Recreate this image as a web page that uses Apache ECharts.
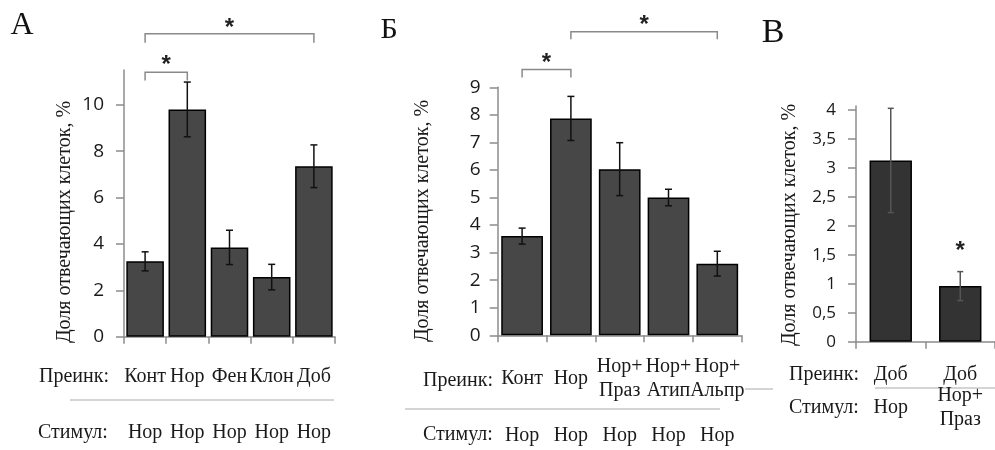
<!DOCTYPE html>
<html><head><meta charset="utf-8">
<script src="https://cdn.jsdelivr.net/npm/echarts@6/dist/echarts.min.js"></script>
<style>html,body{margin:0;padding:0;background:#fff}#c{width:995px;height:450px}</style>
</head><body><div id="c"></div>
<script>
// ---- Panel А ----
const catsA = ['Конт', 'Нор', 'Фен', 'Клон', 'Доб'];
const stimA = ['Нор', 'Нор', 'Нор', 'Нор', 'Нор'];
const meanA = [3.25, 9.8, 3.85, 2.57, 7.35];
const errA = [0.41, 1.18, 0.74, 0.55, 0.92];
const ticksA = [0, 2, 4, 6, 8, 10];
// ---- Panel Б ----
const catsB = ['Конт', 'Нор', 'Нор+\nПраз', 'Нор+\nАтип', 'Нор+\nАльпр'];
const stimB = ['Нор', 'Нор', 'Нор', 'Нор', 'Нор'];
const meanB = [3.6, 7.87, 6.03, 5.0, 2.6];
const errB = [0.29, 0.8, 0.96, 0.3, 0.45];
const ticksB = [0, 1, 2, 3, 4, 5, 6, 7, 8, 9];
// ---- Panel В ----
const catsC = ['Доб', 'Доб'];
const stimC = ['Нор', 'Нор+\nПраз'];
const meanC = [3.13, 0.96];
const errC = [0.9, 0.25];
const ticksC = [0, 0.5, 1, 1.5, 2, 2.5, 3, 3.5, 4];
// significance: [from, to, bracket level, leg end level, star level]
const sigA = [[0, 1, 11.4, 11.05, 11.9], [0, 4, 13.06, 12.67, 13.5]];
const sigB = [[0, 1, 9.65, 9.36, 10.05], [1, 4, 11.02, 10.74, 11.44]];
const starC = [[1, 1.64]];

const SERIF = '"Liberation Serif", "Times New Roman", serif';
const SANS = '"Open Sans", sans-serif';
const AX = '#8c8c8c';
const TXT = '#1a1a1a';
const STAR_FONT = 'bold 24px "Liberation Sans", sans-serif';
const STAR_DY = 5;

const chart = echarts.init(document.getElementById('c'), null, {renderer: 'canvas'});

function errRender(color, cap) {
  return function (params, api) {
    const x = api.value(0), m = api.value(1), e = api.value(2);
    const t = api.coord([x, m + e]), b = api.coord([x, m - e]);
    const st = {stroke: color, lineWidth: 1.5};
    return {type: 'group', children: [
      {type: 'line', shape: {x1: t[0], y1: t[1], x2: b[0], y2: b[1]}, style: st},
      {type: 'line', shape: {x1: t[0] - cap, y1: t[1], x2: t[0] + cap, y2: t[1]}, style: st},
      {type: 'line', shape: {x1: b[0] - cap, y1: b[1], x2: b[0] + cap, y2: b[1]}, style: st}
    ]};
  };
}
function sigRender(params, api) {
  const i1 = api.value(0), i2 = api.value(1), y = api.value(2), ye = api.value(3), ys = api.value(4);
  const a = api.coord([i1, y]), b = api.coord([i2, y]);
  const ae = api.coord([i1, ye]), be = api.coord([i2, ye]);
  const s = api.coord([i1, ys]), s2 = api.coord([i2, ys]);
  return {type: 'group', children: [
    {type: 'polyline', shape: {points: [[ae[0], ae[1]], [a[0], a[1]], [b[0], b[1]], [be[0], be[1]]]},
     style: {stroke: '#8a8a8a', lineWidth: 1.5, fill: null}},
    {type: 'text', x: (s[0] + s2[0]) / 2, y: s[1] + STAR_DY,
     style: {text: '*', font: STAR_FONT, fill: '#222', align: 'center', verticalAlign: 'middle'}}
  ]};
}
function starRender(params, api) {
  const p = api.coord([api.value(0), api.value(1)]);
  return {type: 'text', x: p[0], y: p[1] + STAR_DY,
    style: {text: '*', font: STAR_FONT, fill: '#222', align: 'center', verticalAlign: 'middle'}};
}

function yAx(grid, max, ticks, margin, fs, fmt) {
  return {type: 'value', gridIndex: grid, min: 0, max: max,
    axisLine: {show: true, lineStyle: {color: AX, width: 1.5}},
    axisTick: {show: true, length: 8, lineStyle: {color: AX, width: 1.5}, customValues: ticks},
    axisLabel: {customValues: ticks, margin: margin, fontFamily: SANS, fontSize: fs, color: TXT,
      formatter: fmt || (v => String(v))},
    splitLine: {show: false}};
}
function xAx(grid, data, margin, showLine) {
  return {type: 'category', gridIndex: grid, data: data, position: 'bottom',
    axisLine: {show: showLine, lineStyle: {color: AX, width: 1.5}},
    axisTick: {show: showLine, length: 7, lineStyle: {color: AX, width: 1.5}},
    axisLabel: {interval: 0, margin: margin, verticalAlign: 'middle', fontFamily: SERIF, fontSize: 20,
      lineHeight: 24, color: TXT},
    splitLine: {show: false}};
}

const option = {
  animation: false,
  backgroundColor: '#fff',
  grid: [
    {left: 124, top: 70, width: 211, height: 266.7},
    {left: 497.7, top: 87.3, width: 244, height: 248},
    {left: 856, top: 106, width: 148, height: 235.7}
  ],
  xAxis: [
    xAx(0, catsA, 40, true), xAx(0, stimA, 96, false),
    xAx(1, catsB, 43, true), xAx(1, stimB, 100, false),
    xAx(2, catsC, 33, true), xAx(2, stimC, 66, false)
  ],
  yAxis: [
    yAx(0, 11.5, ticksA, 20, 19),
    yAx(1, 9, ticksB, 17, 19),
    yAx(2, 4.07, ticksC, 20, 17, v => String(v).replace('.', ','))
  ],
  series: [
    {type: 'bar', xAxisIndex: 0, yAxisIndex: 0, data: meanA, barCategoryGap: '11%',
     itemStyle: {color: '#474747', borderColor: '#000', borderWidth: 1.5}},
    {type: 'custom', xAxisIndex: 0, yAxisIndex: 0, renderItem: errRender('#111', 3.5),
     data: meanA.map((m, i) => [i, m, errA[i]]), encode: {x: 0, y: 1}, z: 5},
    {type: 'custom', xAxisIndex: 0, yAxisIndex: 0, renderItem: sigRender, data: sigA,
     encode: {x: 0, y: 2}, clip: false, z: 5},

    {type: 'bar', xAxisIndex: 2, yAxisIndex: 1, data: meanB, barCategoryGap: '14.5%',
     itemStyle: {color: '#474747', borderColor: '#000', borderWidth: 1.5}},
    {type: 'custom', xAxisIndex: 2, yAxisIndex: 1, renderItem: errRender('#111', 3.5),
     data: meanB.map((m, i) => [i, m, errB[i]]), encode: {x: 0, y: 1}, z: 5},
    {type: 'custom', xAxisIndex: 2, yAxisIndex: 1, renderItem: sigRender, data: sigB,
     encode: {x: 0, y: 2}, clip: false, z: 5},

    {type: 'bar', xAxisIndex: 4, yAxisIndex: 2, data: meanC, barCategoryGap: '39%',
     itemStyle: {color: '#333333', borderColor: '#000', borderWidth: 1.5}},
    {type: 'custom', xAxisIndex: 4, yAxisIndex: 2, renderItem: errRender('#555', 3),
     data: meanC.map((m, i) => [i, m, errC[i]]), encode: {x: 0, y: 1}, z: 5},
    {type: 'custom', xAxisIndex: 4, yAxisIndex: 2, renderItem: starRender, data: starC,
     encode: {x: 0, y: 1}, clip: false, z: 5}
  ],
  graphic: [
    {type: 'text', x: 22, y: 26, style: {text: 'А', font: '32px ' + SERIF, fill: '#111', align: 'center', verticalAlign: 'middle'}},
    {type: 'text', x: 389, y: 30, style: {text: 'Б', font: '30px ' + SERIF, fill: '#111', align: 'center', verticalAlign: 'middle'}},
    {type: 'text', x: 773, y: 33, style: {text: 'В', font: '34px ' + SERIF, fill: '#111', align: 'center', verticalAlign: 'middle'}},

    {type: 'text', x: 65, y: 222, rotation: Math.PI / 2, style: {text: 'Доля отвечающих клеток, %', font: '20px ' + SERIF, fill: TXT, align: 'center', verticalAlign: 'middle'}},
    {type: 'text', x: 423, y: 221, rotation: Math.PI / 2, style: {text: 'Доля отвечающих клеток, %', font: '20px ' + SERIF, fill: TXT, align: 'center', verticalAlign: 'middle'}},
    {type: 'text', x: 790, y: 225, rotation: Math.PI / 2, style: {text: 'Доля отвечающих клеток, %', font: '20px ' + SERIF, fill: TXT, align: 'center', verticalAlign: 'middle'}},

    {type: 'text', x: 39, y: 377, style: {text: 'Преинк:', font: '20px ' + SERIF, fill: TXT, align: 'left', verticalAlign: 'middle'}},
    {type: 'text', x: 38, y: 433, style: {text: 'Стимул:', font: '20px ' + SERIF, fill: TXT, align: 'left', verticalAlign: 'middle'}},
    {type: 'text', x: 423, y: 381, style: {text: 'Преинк:', font: '20px ' + SERIF, fill: TXT, align: 'left', verticalAlign: 'middle'}},
    {type: 'text', x: 423, y: 435, style: {text: 'Стимул:', font: '20px ' + SERIF, fill: TXT, align: 'left', verticalAlign: 'middle'}},
    {type: 'text', x: 789, y: 375, style: {text: 'Преинк:', font: '20px ' + SERIF, fill: TXT, align: 'left', verticalAlign: 'middle'}},
    {type: 'text', x: 789, y: 408, style: {text: 'Стимул:', font: '20px ' + SERIF, fill: TXT, align: 'left', verticalAlign: 'middle'}},

    {type: 'line', shape: {x1: 70, y1: 400, x2: 334, y2: 400}, style: {stroke: '#aaa', lineWidth: 1}},
    {type: 'line', shape: {x1: 405, y1: 409, x2: 720, y2: 409}, style: {stroke: '#aaa', lineWidth: 1}},
    {type: 'line', shape: {x1: 745, y1: 389, x2: 773, y2: 389}, style: {stroke: '#aaa', lineWidth: 1}},
    {type: 'line', shape: {x1: 875, y1: 388, x2: 995, y2: 388}, style: {stroke: '#aaa', lineWidth: 1}}
  ]
};
chart.setOption(option);
</script>
</body></html>
